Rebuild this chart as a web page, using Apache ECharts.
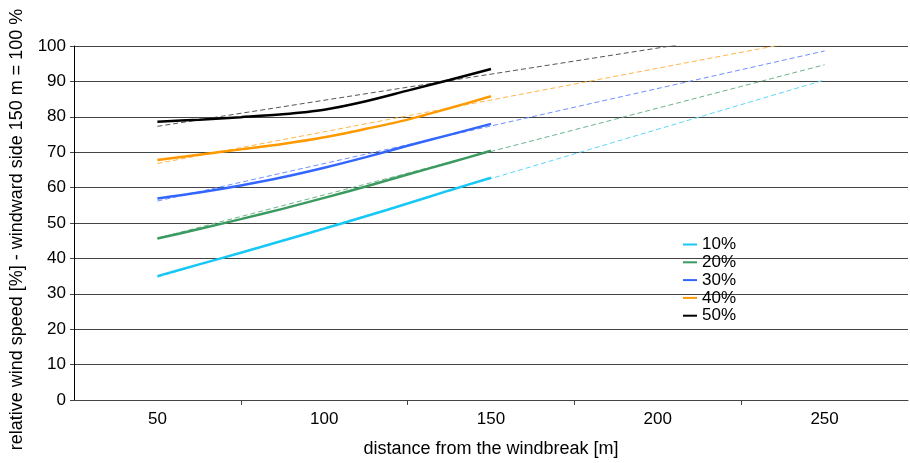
<!DOCTYPE html>
<html>
<head>
<meta charset="utf-8">
<script src="https://cdn.jsdelivr.net/npm/echarts@6/dist/echarts.min.js"></script>
<style>html,body{margin:0;padding:0;background:#fff}#c{width:910px;height:463px}</style>
</head>
<body>
<div id="c"></div>
<script>
// distances [m] for measured curves
var distances = [50, 62.5, 75, 87.5, 100, 112.5, 125, 137.5, 150];
// measured relative wind speed per porosity
var s10 = [35.0, 38.3, 41.6, 45.0, 48.4, 51.9, 55.5, 59.2, 62.8];
var s20 = [45.6, 48.3, 51.1, 54.0, 57.1, 60.3, 63.7, 67.0, 70.4];
var s30 = [56.9, 58.6, 60.6, 62.9, 65.6, 68.6, 71.8, 74.9, 78.0];
var s40 = [67.8, 69.3, 70.8, 72.3, 74.2, 76.6, 79.2, 82.4, 85.8];
var s50 = [78.6, 79.2, 79.9, 80.7, 82.0, 84.4, 87.4, 90.4, 93.5];
// linear trend lines (start at 50 m, end at 250 m)
var trendX = [50, 250];
var t10 = [34.7, 90.4];
var t20 = [45.7, 94.7];
var t30 = [56.2, 98.6];
var t40 = [66.8, 102.7];
var t50 = [77.3, 106.8];
var names = ['10%', '20%', '30%', '40%', '50%'];
var colors = ['#17C8F5', '#3A9A60', '#3366FF', '#FF9900', '#000000'];
var dashColors = ['#5AD8F7', '#6BB58A', '#6F8FFF', '#FFB54A', '#555555'];
var yTicks = [0, 10, 20, 30, 40, 50, 60, 70, 80, 90, 100];
var xLabels = [50, 100, 150, 200, 250];
var xTicks = [75, 125, 175, 225];

function pairs(xs, ys) { return xs.map(function (x, i) { return [x, ys[i]]; }); }

var solid = [s10, s20, s30, s40, s50];
var trend = [t10, t20, t30, t40, t50];
var series = [];
trend.forEach(function (t, i) {
  series.push({
    name: names[i] + ' trend', type: 'line', data: pairs(trendX, t),
    showSymbol: false, symbol: 'none', silent: true, z: 2,
    lineStyle: { color: dashColors[i], width: 1, type: [5, 3] }
  });
});
solid.forEach(function (s, i) {
  series.push({
    name: names[i], type: 'line', data: pairs(distances, s),
    smooth: 0.3, showSymbol: false, symbol: 'none', z: 3,
    itemStyle: { color: colors[i] },
    lineStyle: { color: colors[i], width: 2.5 }
  });
});

var chart = echarts.init(document.getElementById('c'), null, { renderer: 'canvas' });
chart.setOption({
  animation: false,
  backgroundColor: '#fff',
  textStyle: { fontFamily: 'Liberation Sans, Arial, sans-serif' },
  grid: { left: 69, right: 2, top: 46, bottom: 59, containLabel: false },
  legend: {
    data: names, orient: 'vertical', left: 678, top: 231,
    icon: 'rect', itemWidth: 14, itemHeight: 2, itemGap: 0.8,
    textStyle: { fontSize: 17, color: '#000', fontFamily: 'Liberation Sans, Arial, sans-serif' }
  },
  xAxis: {
    type: 'value', min: 25, max: 275,
    name: 'distance from the windbreak [m]', nameLocation: 'middle', nameGap: 40,
    nameTextStyle: { fontSize: 18, color: '#000' },
    axisLine: { show: true, lineStyle: { color: '#444', width: 1 } },
    axisTick: { show: true, length: 5, customValues: xTicks, lineStyle: { color: '#444' } },
    axisLabel: { customValues: xLabels, fontSize: 17, color: '#000', margin: 11 },
    splitLine: { show: false }
  },
  yAxis: {
    type: 'value', min: 0, max: 100, interval: 10,
    name: 'relative wind speed [%] - windward side 150 m = 100 %', nameLocation: 'middle', nameGap: 48,
    nameTextStyle: { fontSize: 18, color: '#000', padding: [0, 13, 0, 0] },
    axisLine: { show: true, lineStyle: { color: '#000', width: 1 } },
    axisTick: { show: true, length: 4, lineStyle: { color: '#444' } },
    axisLabel: { fontSize: 17, color: '#000', margin: 8 },
    splitLine: { show: true, lineStyle: { color: '#444', width: 1 } }
  },
  series: series
});
</script>
</body>
</html>
